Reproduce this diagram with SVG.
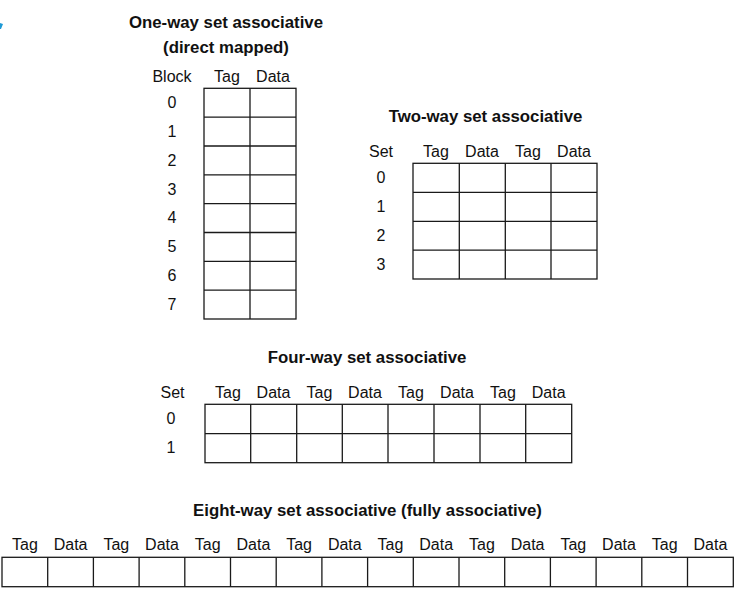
<svg xmlns="http://www.w3.org/2000/svg" width="749" height="591" viewBox="0 0 749 591">
<style>
text{font-family:"Liberation Sans",Arial,sans-serif;fill:#111}
.t{font-size:16.8px;font-weight:bold;text-anchor:middle}
.h{font-size:16px;text-anchor:middle}
.g{fill:#fff;stroke:#1a1a1a;stroke-width:1.3}
.l{stroke:#1a1a1a;stroke-width:1.3;fill:none}
</style>
<rect width="749" height="591" fill="#fff"/>
<path d="M0,23 L3,24 L1,29 L0,29 Z" fill="#1e9ad6"/>
<g id="one-way">
<text class="t" x="226" y="27.5">One-way set associative</text>
<text class="t" x="226" y="52.5">(direct mapped)</text>
<text class="h" x="172" y="81.5">Block</text>
<text class="h" x="227" y="81.5">Tag</text>
<text class="h" x="273" y="81.5">Data</text>
<rect class="g" x="204" y="88.3" width="92" height="230.7"/>
<path class="l" d="M250,88.3V319 M204,117.1H296 M204,146H296 M204,174.8H296 M204,203.6H296 M204,232.5H296 M204,261.3H296 M204,290.2H296"/>
<text class="h" x="172" y="108">0</text>
<text class="h" x="172" y="136.8">1</text>
<text class="h" x="172" y="165.7">2</text>
<text class="h" x="172" y="194.5">3</text>
<text class="h" x="172" y="223.4">4</text>
<text class="h" x="172" y="252.2">5</text>
<text class="h" x="172" y="281.1">6</text>
<text class="h" x="172" y="309.9">7</text>
</g>
<g id="two-way">
<text class="t" x="485.5" y="121.5">Two-way set associative</text>
<text class="h" x="381" y="157">Set</text>
<text class="h" x="436" y="157">Tag</text>
<text class="h" x="482" y="157">Data</text>
<text class="h" x="528" y="157">Tag</text>
<text class="h" x="574" y="157">Data</text>
<rect class="g" x="413" y="163.3" width="184" height="115.7"/>
<path class="l" d="M459.3,163.3V279 M505.3,163.3V279 M551,163.3V279 M413,192.3H597 M413,221.3H597 M413,250.1H597"/>
<text class="h" x="381" y="183">0</text>
<text class="h" x="381" y="212">1</text>
<text class="h" x="381" y="240.8">2</text>
<text class="h" x="381" y="269.7">3</text>
</g>
<g id="four-way">
<text class="t" x="367" y="362.5">Four-way set associative</text>
<text class="h" x="172.5" y="398">Set</text>
<text class="h" x="228" y="398">Tag</text>
<text class="h" x="273.5" y="398">Data</text>
<text class="h" x="319.5" y="398">Tag</text>
<text class="h" x="365" y="398">Data</text>
<text class="h" x="411" y="398">Tag</text>
<text class="h" x="457" y="398">Data</text>
<text class="h" x="503" y="398">Tag</text>
<text class="h" x="548.7" y="398">Data</text>
<rect class="g" x="205" y="404.3" width="366.7" height="58.4"/>
<path class="l" d="M250.7,404.3V462.7 M296.7,404.3V462.7 M342.3,404.3V462.7 M388,404.3V462.7 M434,404.3V462.7 M480,404.3V462.7 M525.7,404.3V462.7 M205,433.6H571.7"/>
<text class="h" x="171" y="424.3">0</text>
<text class="h" x="171" y="453.4">1</text>
</g>
<g id="eight-way">
<text class="t" x="367.5" y="516">Eight-way set associative (fully associative)</text>
<text class="h" x="24.9" y="550">Tag</text>
<text class="h" x="70.6" y="550">Data</text>
<text class="h" x="116.3" y="550">Tag</text>
<text class="h" x="162" y="550">Data</text>
<text class="h" x="207.7" y="550">Tag</text>
<text class="h" x="253.4" y="550">Data</text>
<text class="h" x="299.1" y="550">Tag</text>
<text class="h" x="344.8" y="550">Data</text>
<text class="h" x="390.5" y="550">Tag</text>
<text class="h" x="436.2" y="550">Data</text>
<text class="h" x="481.9" y="550">Tag</text>
<text class="h" x="527.6" y="550">Data</text>
<text class="h" x="573.3" y="550">Tag</text>
<text class="h" x="619" y="550">Data</text>
<text class="h" x="664.7" y="550">Tag</text>
<text class="h" x="710.4" y="550">Data</text>
<rect class="g" x="2" y="557.3" width="731.3" height="29.4"/>
<path class="l" d="M47.7,557.3V586.7 M93.4,557.3V586.7 M139.1,557.3V586.7 M184.8,557.3V586.7 M230.5,557.3V586.7 M276.2,557.3V586.7 M321.9,557.3V586.7 M367.6,557.3V586.7 M413.3,557.3V586.7 M459,557.3V586.7 M504.7,557.3V586.7 M550.4,557.3V586.7 M596.1,557.3V586.7 M641.8,557.3V586.7 M687.5,557.3V586.7"/>
</g>
</svg>
